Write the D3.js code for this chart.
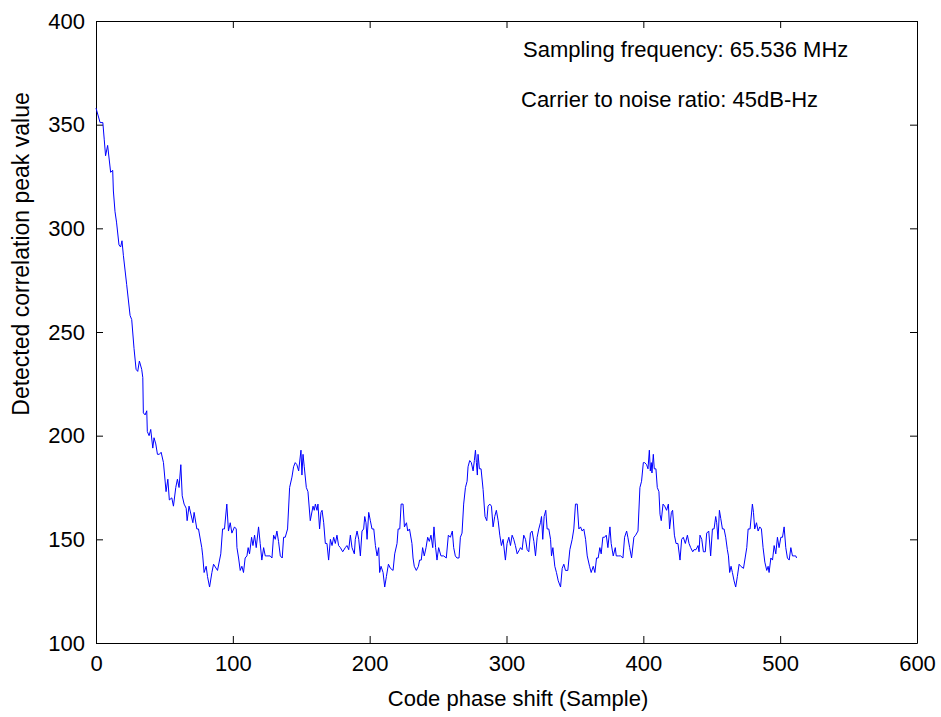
<!DOCTYPE html>
<html>
<head>
<meta charset="utf-8">
<script src="https://cdn.jsdelivr.net/npm/d3@7"></script>
<style>
  html, body { margin: 0; padding: 0; background: #fff; }
  svg { display: block; font-family: "Liberation Sans", Arial, sans-serif; }
</style>
</head>
<body>
<div id="chart"></div>
<script>
// code phase shift (samples), irregular spacing
const shift = [
  0,3,5,6,7,8.5,10.7,12.2,12.7,13.9,15,16.8,18,19,20,22.4,24.9,26.1,27.8,29.3,30.5,31.7,33.4,34.2,34.6,35.9,37.1,37.5,38.8,40,
  41.5,42.4,43.7,44.9,46.3,47.6,49.3,51.2,52.5,53.6,55.4,56.6,58.3,59.5,60.7,62,63,64.4,65.9,66.6,68,
  70.8,71.7,73.7,74.9,77.3,78,79,80.5,81.5,83,84.7,85.9,88.8,91.2,92.5,93.9,95.6,96.8,98.1,99.3,101.2,102.5,103,104.2,105.4,
  106.6,107.8,109,110.3,111.2,112.2,113.7,114.7,115.9,117.1,118.8,120,121.2,122.5,123.7,124.9,127.3,128.6,129.8,131,132.2,
  133.4,134.7,136.1,137.1,138.3,140,141.5,143.2,144.4,145.6,146.8,148.1,149.8,
  150.5,151.3,152.2,153.7,154.9,156.6,158.6,159.5,160.3,161.5,162.2,163.4,164.4,165.2,166.4,167.6,168.8,170,171.3,172.5,
  173.7,174.9,176.1,177.3,178.6,180.3,182.2,183.4,184.7,185.9,187.1,188.8,189.5,190.8,192,193.2,194.4,195.6,196.4,197.3,
  198.1,199.3,200.5,201.7,203,204.2,205.4,206.6,207.3,208.3,209.8,211,212.2,213.7,215.2,217.1,218.3,220,220.8,222,223,
  224.4,225.4,226.9,227.8,229.1,
  230.9,231.7,232.6,234.1,235.6,236.5,237.7,238.7,239.9,241.2,242.4,243.6,244.8,246.1,247,248.2,249.2,250.4,252.1,254.1,
  256,257.5,259,260.4,261.4,262.6,263.8,265.3,266.3,267.5,268.7,270,271.2,271.9,273.1,274.3,275.6,276.5,277.3,278,278.7,
  279.2,280.2,281.4,282.9,284.3,285.6,286.5,287.8,289,290.2,291.4,292.6,293.9,295.1,296.3,297.5,299.2,300.4,301.7,302.9,
  304.1,305.3,306.5,307.8,309.5,
  310.2,311.4,312.6,313.9,315.1,316.3,317.5,318.7,320,321.2,322.4,323.6,324.8,325.6,326.5,327.5,328.7,329.7,330.9,332.2,
  332.9,333.9,335.3,336.5,337.8,339.5,340.7,341.9,343.1,344.8,346.3,348,349.2,350.4,351.7,352.9,354.1,355.3,356.5,357.8,
  359,360.7,361.9,363.4,364.6,365.8,367,368.2,369.2,370.4,371.7,372.9,374.1,375.6,376.5,378,379.5,380.2,381.7,383.4,
  385.1,386.3,387.8,388.7,390,
  391.4,393.1,394.4,396.1,397.5,398.7,400,401,402.4,403.4,404.4,405.1,405.8,406.3,407.3,408,409.2,410.2,411.4,412.2,
  413.1,414.4,415.6,417,418.3,419.2,420.5,421.4,422.7,423.9,425.3,426.8,428,429.2,430.7,432.2,433.4,434.6,436.1,437,
  438.5,440,440.7,441.4,442.7,443.9,445.3,446.3,447.8,449.2,450.5,451.7,452.9,453.6,454.6,455.6,456.6,457.8,459,460.2,
  461.4,462.2,463.1,464.1,465.1,466.3,467.5,468.7,470,
  471.2,473.2,474.4,475.6,476.6,478,479.7,480.5,481.4,482.7,483.9,485.1,486.3,487.5,488.8,490.2,491.2,491.9,493.2,494.4,
  495.6,496.8,498,499.2,500.5,501.7,502.9,504.1,505.3,506.6,507.8,509,510.2,511.4,512
];
// detected correlation peak value at each shift
const peak = [
  358,351,351,343,335,340,327,328,318,308,303,292,291,294,287,273,258,256,242,232,231,236,232,228,211,210,212,202,200,203,
  194,199,196,191,191,192,187,173,179,169,170,166,175,179,175,186,171,167,165,159,166,
  158,163,155,155,146,142,134,137,132,127,134,138,135,143,155,155,167,154,158,153,156,155,146,141,135,
  137,134,141,142,146,143,151,147,152,146,156,148,140,146,142,142,142,141,152,150,154,
  149,142,141,151,151,155,175,180,185,187,186,183,193,
  181,191,185,175,173,159,166,164,167,164,167,155,163,164,158,148,148,140,150,147,
  151,148,152,147,146,144,146,147,145,152,146,143,150,154,150,142,154,155,161,158,
  150,163,159,155,155,147,142,146,134,137,134,127,132,138,136,135,143,148,155,155,167,
  167,156,158,154,155,
  148,141,137,135,137,140,140,146,142,146,151,149,152,146,156,146,140,146,142,142,
  141,152,151,154,146,142,141,141,151,153,167,175,178,185,188,187,183,188,193,187,181,
  191,184,184,174,161,159,166,167,166,156,161,164,159,152,147,150,140,148,151,147,
  152,150,147,143,145,
  146,145,152,150,145,144,153,154,149,142,151,155,158,161,150,161,164,155,155,150,
  142,146,137,134,130,127,136,138,135,135,145,150,155,167,167,155,156,154,155,150,
  142,137,134,137,134,141,141,146,143,151,151,152,146,156,148,142,146,142,142,142,
  141,151,154,151,146,
  141,151,152,154,175,178,187,187,186,184,193,183,187,182,191,184,184,175,173,162,
  159,167,166,164,167,155,163,164,152,148,148,140,150,151,148,152,148,146,144,145,
  145,147,144,152,150,144,144,153,154,142,155,155,161,158,150,164,160,155,155,151,
  145,142,134,137,134,130,127,132,138,
  137,136,141,146,155,155,167,163,155,158,154,156,155,146,139,135,137,134,141,140,
  147,143,151,146,151,151,156,146,141,140,146,142,142,142,141
];
const xTicks = [0, 100, 200, 300, 400, 500, 600];
const yTicks = [100, 150, 200, 250, 300, 350, 400];
const notes = ['Sampling frequency: 65.536 MHz', 'Carrier to noise ratio: 45dB-Hz'];

const W = 941, H = 717;
const m = {t:21, r:24, b:74, l:96};
const iw = W - m.l - m.r, ih = H - m.t - m.b;
const FS = 22;

const svg = d3.select('#chart').append('svg').attr('width', W).attr('height', H);
const g = svg.append('g').attr('transform', `translate(${m.l},${m.t})`);

const x = d3.scaleLinear().domain([0, 600]).range([0, iw]);
const y = d3.scaleLinear().domain([100, 400]).range([ih, 0]);

const TK = 7;
const style = sel => {
  sel.selectAll('path,line').attr('stroke', '#000').attr('stroke-width', 1);
  sel.selectAll('text').attr('fill', '#000').attr('font-size', FS).attr('font-family', '"Liberation Sans", Arial, sans-serif');
};
g.append('g').attr('transform', `translate(0,${ih})`)
  .call(d3.axisBottom(x).tickValues(xTicks).tickSizeInner(-TK).tickSizeOuter(0).tickPadding(12)).call(style);
g.append('g')
  .call(d3.axisTop(x).tickValues(xTicks).tickSizeInner(-TK).tickSizeOuter(0).tickFormat('')).call(style);
g.append('g')
  .call(d3.axisLeft(y).tickValues(yTicks).tickSizeInner(-TK).tickSizeOuter(0).tickPadding(11)).call(style);
g.append('g').attr('transform', `translate(${iw},0)`)
  .call(d3.axisRight(y).tickValues(yTicks).tickSizeInner(-TK).tickSizeOuter(0).tickFormat('')).call(style);

const line = d3.line().x((d, i) => x(shift[i])).y(d => y(d));
g.append('path').datum(peak).attr('d', line)
  .attr('fill', 'none').attr('stroke', '#0000ff').attr('stroke-width', 1);

// annotations
g.append('text').attr('x', 427).attr('y', 36).attr('font-size', FS).text(notes[0]);
g.append('text').attr('x', 425).attr('y', 86).attr('font-size', FS).text(notes[1]);

// axis titles
g.append('text').attr('x', 422).attr('y', ih + 63).attr('text-anchor', 'middle').attr('font-size', FS)
  .text('Code phase shift (Sample)');
g.append('text').attr('transform', `translate(${-67},${233}) rotate(-90)`).attr('text-anchor', 'middle')
  .attr('font-size', 23).text('Detected correlation peak value');
</script>
</body>
</html>
